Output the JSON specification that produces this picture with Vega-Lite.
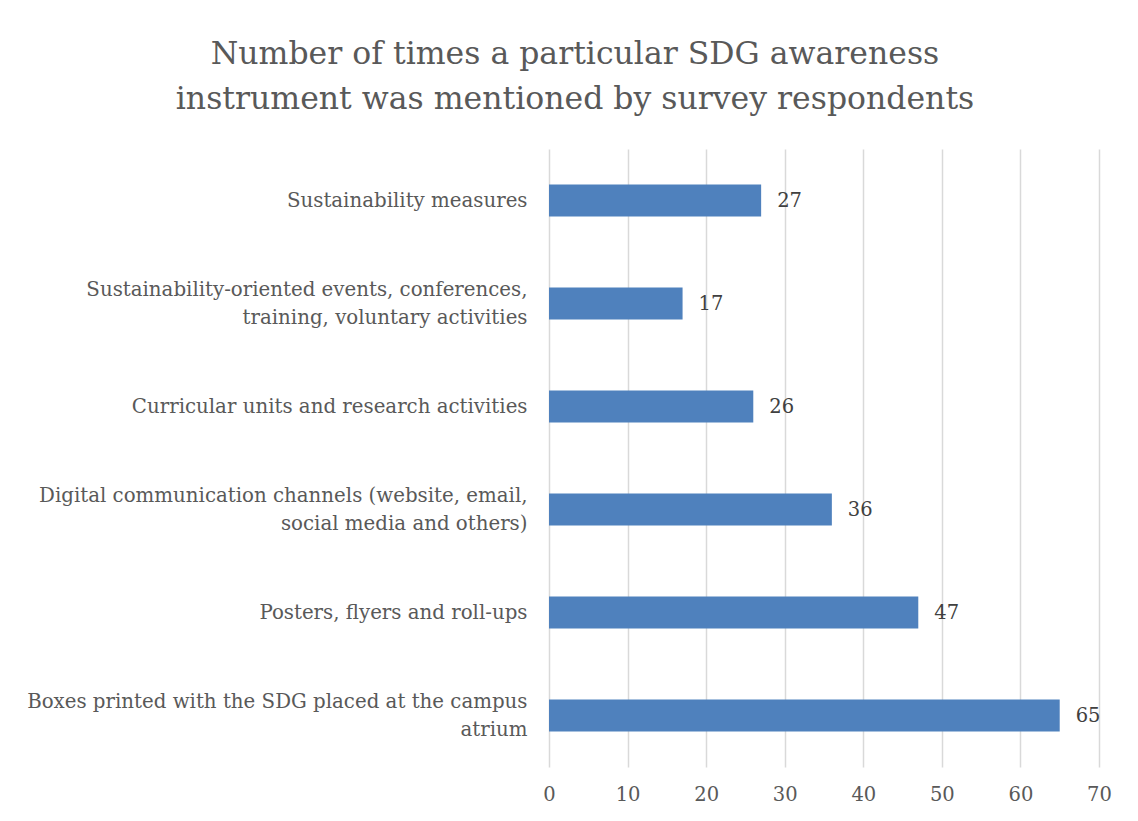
{
  "$schema": "https://vega.github.io/schema/vega-lite/v6.json",
  "width": 550,
  "height": 618,
  "autosize": {"type": "none"},
  "padding": {"left": 549, "top": 149, "right": 39, "bottom": 54},
  "background": "white",
  "title": {
    "text": ["Number of times a particular SDG awareness", "instrument was mentioned by survey respondents"],
    "anchor": "middle",
    "frame": "group",
    "dx": -249,
    "offset": 34,
    "font": "DejaVu Serif",
    "fontSize": 31.5,
    "fontWeight": "normal",
    "color": "#595959",
    "lineHeight": 45
  },
  "data": {
    "values": [
      {"instrument": "Sustainability measures", "mentions": 27},
      {"instrument": "Sustainability-oriented events, conferences,\ntraining, voluntary activities", "mentions": 17},
      {"instrument": "Curricular units and research activities", "mentions": 26},
      {"instrument": "Digital communication channels (website, email,\nsocial media and others)", "mentions": 36},
      {"instrument": "Posters, flyers and roll-ups", "mentions": 47},
      {"instrument": "Boxes printed with the SDG placed at the campus\natrium", "mentions": 65}
    ]
  },
  "encoding": {
    "y": {
      "field": "instrument",
      "type": "nominal",
      "sort": null,
      "scale": {"paddingInner": 0.69, "paddingOuter": 0.345},
      "axis": {
        "title": null,
        "domain": false,
        "ticks": false,
        "grid": false,
        "labelPadding": 22,
        "labelFont": "DejaVu Serif",
        "labelFontSize": 19.8,
        "labelColor": "#595959",
        "labelLineHeight": 28,
        "labelLimit": 0,
        "labelOffset": {"condition": {"test": "indexof(datum.value, '\\n') >= 0", "value": -14}, "value": 0},
        "labelExpr": "split(datum.value, '\\n')"
      }
    },
    "x": {
      "field": "mentions",
      "type": "quantitative",
      "scale": {"domain": [0, 70]},
      "axis": {
        "title": null,
        "values": [0, 10, 20, 30, 40, 50, 60, 70],
        "domain": false,
        "ticks": false,
        "grid": true,
        "gridColor": "#d9d9d9",
        "gridWidth": 1.5,
        "labelPadding": 18,
        "labelFont": "DejaVu Serif",
        "labelFontSize": 19.5,
        "labelColor": "#595959",
        "labelFlush": false
      }
    }
  },
  "layer": [
    {
      "mark": {"type": "bar", "color": "#4f81bd"}
    },
    {
      "mark": {
        "type": "text",
        "align": "left",
        "baseline": "middle",
        "dx": 16,
        "font": "DejaVu Serif",
        "fontSize": 19.5,
        "color": "#404040"
      },
      "encoding": {"text": {"field": "mentions", "type": "quantitative"}}
    }
  ],
  "config": {"view": {"stroke": null}}
}
